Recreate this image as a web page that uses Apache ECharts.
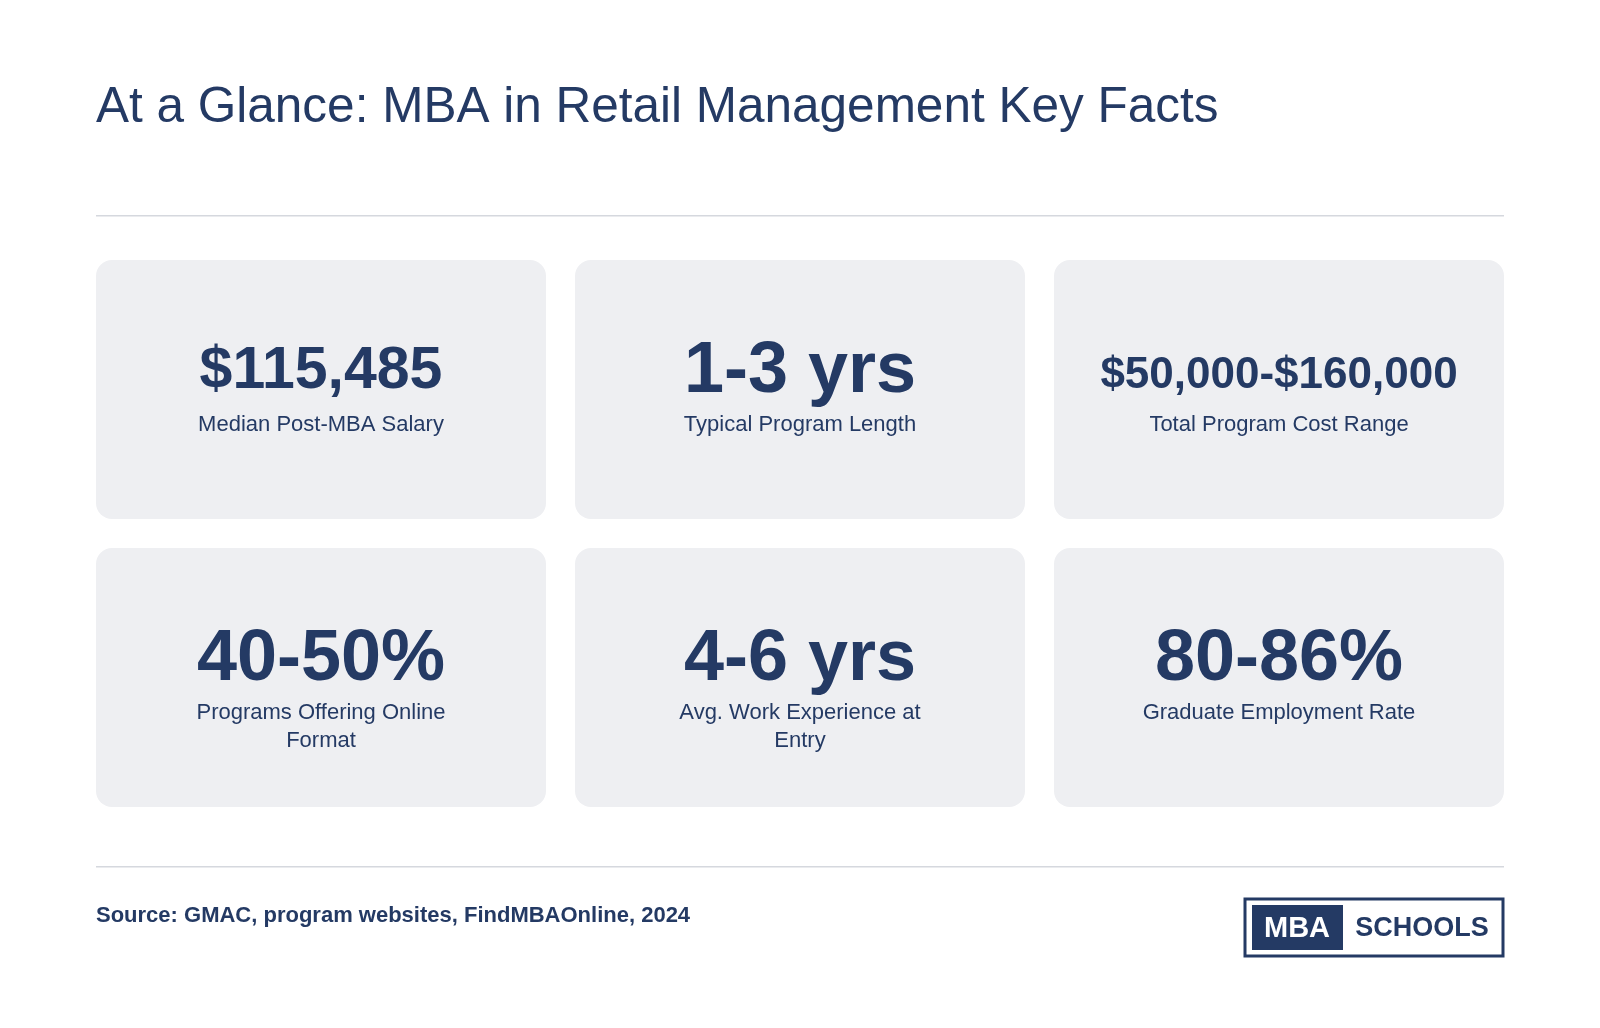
<!DOCTYPE html><html><head><meta charset="utf-8"><script src="https://cdn.jsdelivr.net/npm/echarts@6/dist/echarts.min.js"></script>
<style>html,body{margin:0;background:#fff}#c{width:1600px;height:1028px}</style></head><body><div id="c"></div><script>
const values=["$115,485","1-3 yrs","$50,000-$160,000","40-50%","4-6 yrs","80-86%"];
const labels=["Median Post-MBA Salary","Typical Program Length","Total Program Cost Range","Programs Offering Online\nFormat","Avg. Work Experience at\nEntry","Graduate Employment Rate"];
const valueSizes=[59,72,44,72,72,72];
const title="At a Glance: MBA in Retail Management Key Facts";
const source="Source: GMAC, program websites, FindMBAOnline, 2024";
const C='#243a64',F='"Liberation Sans", Arial, sans-serif';
const els=[
{type:'text',left:96,top:83,style:{text:title,fill:C,font:'49.5px '+F}},
{type:'rect',shape:{x:96,y:215,width:1408,height:1.5},style:{fill:'#d5d8de'}},
{type:'rect',shape:{x:96,y:866,width:1408,height:1.5},style:{fill:'#d5d8de'}},
{type:'text',x:96,y:916,style:{text:source,fill:C,font:'bold 22px '+F,textVerticalAlign:'middle'}},
{type:'rect',shape:{x:1245,y:899,width:258,height:57},style:{fill:'#fff',stroke:C,lineWidth:3}},
{type:'rect',shape:{x:1252,y:905,width:91,height:45},style:{fill:C}},
{type:'text',x:1297,y:929,style:{text:'MBA',fill:'#fff',font:'bold 29px '+F,textAlign:'center',textVerticalAlign:'middle'}},
{type:'text',x:1422,y:929,style:{text:'SCHOOLS',fill:C,font:'bold 27px '+F,textAlign:'center',textVerticalAlign:'middle'}}
];
const xs=[96,575,1054],ys=[260,548],w=450,h=259;
values.forEach((v,i)=>{
 const x=xs[i%3],y=ys[Math.floor(i/3)],cx=x+w/2;
 els.push({type:'rect',shape:{x,y,width:w,height:h,r:16},style:{fill:'#eeeff2'}});
 const vy=i<3?(i==2?y+116:y+112):y+112;
 els.push({type:'text',x:cx,y:vy,style:{text:v,fill:C,font:'bold '+valueSizes[i]+'px '+F,textAlign:'center',textVerticalAlign:'middle'}});
 els.push({type:'text',x:cx,y:y+151,style:{text:labels[i],fill:C,font:'22px '+F,textAlign:'center',textVerticalAlign:'top',lineHeight:28}});
});
echarts.init(document.getElementById('c')).setOption({graphic:{elements:els}});
</script></body></html>
